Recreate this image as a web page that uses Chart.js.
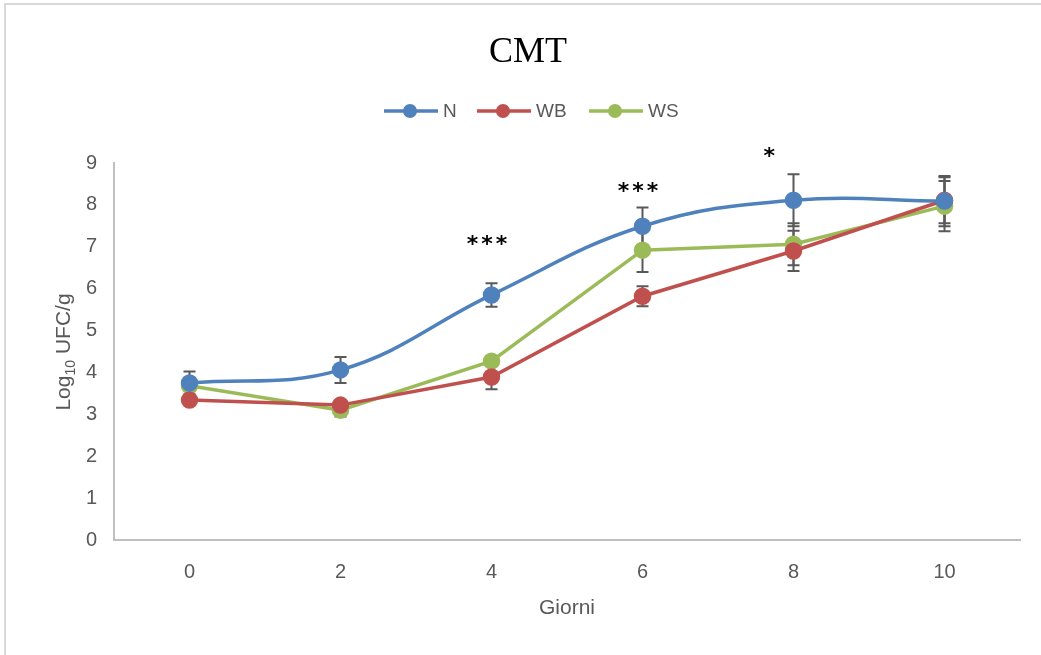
<!DOCTYPE html>
<html>
<head>
<meta charset="utf-8">
<title>CMT</title>
<script src="https://cdn.jsdelivr.net/npm/chart.js@4"></script>
<style>
  html, body { margin: 0; padding: 0; background: #fff; }
  canvas { display: block; }
</style>
</head>
<body>
<canvas id="chart" width="1041" height="655"></canvas>
<script>
// days of sampling
const days = ['0', '2', '4', '6', '8', '10'];

// mean log10 UFC/g per group
const nVals  = [3.75, 4.06, 5.85, 7.49, 8.11, 8.09];
const wbVals = [3.34, 3.22, 3.89, 5.82, 6.90, 8.11];
const wsVals = [3.68, 3.10, 4.27, 6.92, 7.06, 7.97];

// error bars (+/-)
const nErr  = [0.27, 0.31, 0.28, 0.45, 0.62, 0.60];
const wbErr = [0.00, 0.00, 0.29, 0.24, 0.48, 0.55];
const wsErr = [0.00, 0.15, 0.00, 0.52, 0.50, 0.60];

// significance marks: category index (fractional ok), value, text
const stars = [
  { x: 1.97, y: 7.03, text: '***' },
  { x: 2.97, y: 8.30, text: '***' },
  { x: 3.84, y: 9.13, text: '*' }
];

const SANS = '"Liberation Sans", Arial, sans-serif';
const GREY = '#595959';

const series = [
  { label: 'N',  data: nVals,  err: nErr,  color: '#4F81BD', tension: 0.4 },
  { label: 'WB', data: wbVals, err: wbErr, color: '#C0504D', tension: 0 },
  { label: 'WS', data: wsVals, err: wsErr, color: '#9BBB59', tension: 0 }
];

const deco = {
  id: 'deco',
  beforeDraw(chart) {
    const ctx = chart.ctx;
    ctx.save();
    ctx.strokeStyle = '#d9d9d9';
    ctx.lineWidth = 2;
    ctx.beginPath();
    ctx.moveTo(5, 660);
    ctx.lineTo(5, 4);
    ctx.lineTo(1045, 4);
    ctx.stroke();
    ctx.restore();
  },
  beforeDatasetsDraw(chart) {
    const ctx = chart.ctx;
    const ys = chart.scales.y;
    ctx.save();
    ctx.strokeStyle = GREY;
    ctx.lineWidth = 2;
    series.forEach((s, i) => {
      const meta = chart.getDatasetMeta(i);
      meta.data.forEach((pt, j) => {
        const e = s.err[j];
        if (!e) return;
        const top = ys.getPixelForValue(s.data[j] + e);
        const bot = ys.getPixelForValue(s.data[j] - e);
        ctx.beginPath();
        ctx.moveTo(pt.x, top); ctx.lineTo(pt.x, bot);
        ctx.moveTo(pt.x - 6, top); ctx.lineTo(pt.x + 6, top);
        ctx.moveTo(pt.x - 6, bot); ctx.lineTo(pt.x + 6, bot);
        ctx.stroke();
      });
    });
    ctx.restore();
  },
  afterDraw(chart) {
    const ctx = chart.ctx;
    const xs = chart.scales.x, ys = chart.scales.y;
    ctx.save();

    // title
    ctx.fillStyle = '#000';
    ctx.font = '36px "Liberation Serif", "Times New Roman", serif';
    ctx.textAlign = 'center';
    ctx.textBaseline = 'alphabetic';
    ctx.fillText('CMT', 528, 62);

    // legend
    const legX = [384, 477, 589];
    ctx.font = '19px ' + SANS;
    ctx.textAlign = 'left';
    ctx.textBaseline = 'middle';
    series.forEach((s, i) => {
      const x0 = legX[i], y0 = 111;
      ctx.strokeStyle = s.color;
      ctx.lineWidth = 3.5;
      ctx.beginPath();
      ctx.moveTo(x0, y0); ctx.lineTo(x0 + 54, y0);
      ctx.stroke();
      ctx.fillStyle = s.color;
      ctx.beginPath();
      ctx.arc(x0 + 26, y0, 7, 0, Math.PI * 2);
      ctx.fill();
      ctx.fillStyle = GREY;
      ctx.fillText(s.label, x0 + 59, y0 + 1);
    });

    // x axis title
    ctx.font = '21px ' + SANS;
    ctx.textAlign = 'center';
    ctx.textBaseline = 'middle';
    ctx.fillStyle = GREY;
    ctx.fillText('Giorni', 567, 608);

    // y axis title with subscript
    ctx.translate(62, 352);
    ctx.rotate(-Math.PI / 2);
    ctx.textAlign = 'left';
    ctx.textBaseline = 'alphabetic';
    const big = '21px ' + SANS, small = '14px ' + SANS;
    ctx.font = big; const w1 = ctx.measureText('Log').width;
    ctx.font = small; const w2 = ctx.measureText('10').width;
    ctx.font = big; const w3 = ctx.measureText(' UFC/g').width;
    let px = -(w1 + w2 + w3) / 2;
    ctx.font = big; ctx.fillText('Log', px, 8); px += w1;
    ctx.font = small; ctx.fillText('10', px, 13); px += w2;
    ctx.font = big; ctx.fillText(' UFC/g', px, 8);
    ctx.setTransform(1, 0, 0, 1, 0, 0);

    // significance stars
    ctx.fillStyle = '#000';
    ctx.font = 'bold 22px "DejaVu Sans", sans-serif';
    ctx.letterSpacing = '3px';
    ctx.textAlign = 'center';
    ctx.textBaseline = 'middle';
    stars.forEach(s => {
      ctx.fillText(s.text, xs.getPixelForValue(s.x) + 1.5, ys.getPixelForValue(s.y));
    });
    ctx.restore();
  }
};

new Chart(document.getElementById('chart'), {
  type: 'line',
  data: {
    labels: days,
    datasets: series.map(s => ({
      label: s.label,
      data: s.data,
      borderColor: s.color,
      backgroundColor: s.color,
      pointBackgroundColor: s.color,
      pointBorderColor: s.color,
      borderWidth: 3.5,
      pointRadius: 7,
      pointHoverRadius: 7,
      tension: s.tension,
      fill: false
    }))
  },
  options: {
    responsive: false,
    animation: false,
    devicePixelRatio: 1,
    layout: { padding: { left: 0, right: 21, top: 163, bottom: 0 } },
    plugins: {
      legend: { display: false },
      title: { display: false },
      tooltip: { enabled: false }
    },
    scales: {
      x: {
        offset: true,
        grid: { display: false, drawTicks: false },
        border: { display: true, color: '#bfbfbf', width: 2 },
        ticks: { color: GREY, font: { family: SANS, size: 20 }, padding: 20 },
        afterFit(scale) { scale.height = 115; }
      },
      y: {
        min: 0,
        max: 9,
        grid: { display: false, drawTicks: false },
        border: { display: true, color: '#bfbfbf', width: 2 },
        ticks: { stepSize: 1, color: GREY, font: { family: SANS, size: 20 }, padding: 17 },
        afterFit(scale) { scale.width = 114; }
      }
    }
  },
  plugins: [deco]
});
</script>
</body>
</html>
